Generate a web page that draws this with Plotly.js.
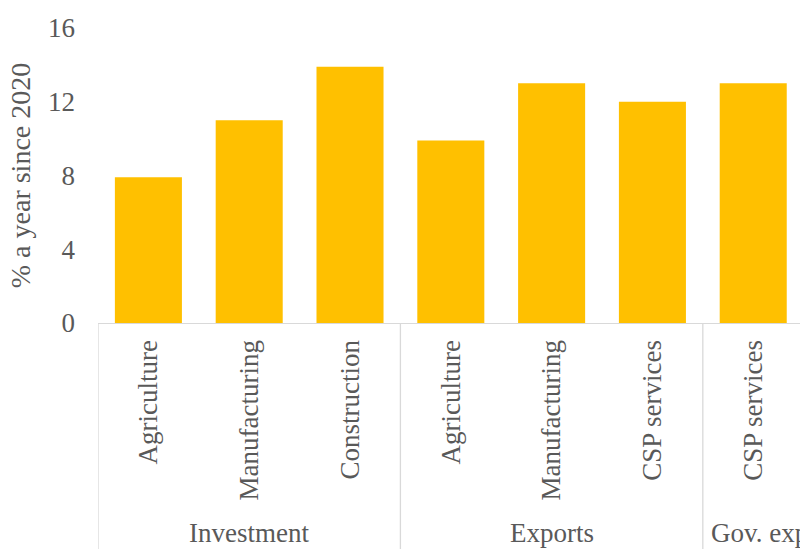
<!DOCTYPE html>
<html><head><meta charset="utf-8">
<script src="https://cdn.plot.ly/plotly-3.0.1.min.js"></script>
<style>html,body{margin:0;padding:0;background:#fff}#chart{width:800px;height:549px}</style>
</head><body><div id="chart"></div>
<script>
const groups = ["Investment", "Exports", "Gov. expenditure"];
const groupSizes = [3, 3, 2];
const categories = ["Agriculture", "Manufacturing", "Construction", "Agriculture", "Manufacturing", "CSP services", "CSP services"];
const values = [7.9, 11, 13.9, 9.9, 13, 12, 13];
const yTicks = [0, 4, 8, 12, 16];
const yTitle = "% a year since 2020";

const FONT = "'Liberation Serif', 'DejaVu Serif', serif";
const GREY = "#595959";
const LINE = "#d9d9d9";
const xmin = -0.5, xmax = 6.464;
const idx = categories.map((c, i) => i);

const shapes = [];
const annotations = [];
let start = 0;
groups.forEach((g, k) => {
  shapes.push({type: "line", xref: "x", yref: "paper", x0: start - 0.5, x1: start - 0.5, y0: 0, y1: -1,
    line: {color: LINE, width: 1.3}});
  const center = start + (groupSizes[k] - 1) / 2;
  annotations.push({xref: "paper", yref: "paper", x: (center - xmin) / (xmax - xmin), y: -0.712,
    xanchor: "center", yanchor: "middle", text: g, showarrow: false,
    font: {family: FONT, size: 27, color: GREY}});
  start += groupSizes[k];
});

Plotly.newPlot("chart", [{
  type: "bar", x: idx, y: values, width: 0.665,
  marker: {color: "#FFC000", line: {width: 0}},
  hoverinfo: "none"
}], {
  width: 800, height: 549,
  margin: {l: 98, r: 0, t: 28, b: 226},
  paper_bgcolor: "#fff", plot_bgcolor: "#fff",
  showlegend: false,
  font: {family: FONT, size: 27, color: GREY},
  xaxis: {
    range: [xmin, xmax], tickmode: "array", tickvals: idx, ticktext: categories,
    tickangle: -90, ticks: "", showgrid: false, zeroline: false,
    showline: true, linecolor: LINE, linewidth: 1.3,
    ticklabelstandoff: 5,
    tickfont: {family: FONT, size: 27, color: GREY}
  },
  yaxis: {
    range: [0, 16], tickmode: "array", tickvals: yTicks, ticktext: yTicks.map(String),
    ticks: "", showgrid: false, zeroline: false, showline: false,
    ticklabelstandoff: 22,
    tickfont: {family: FONT, size: 27, color: GREY},
    title: {text: yTitle, font: {family: FONT, size: 28, color: GREY}, standoff: 9}
  },
  shapes: shapes,
  annotations: annotations
}, {staticPlot: true});
</script>
</body></html>
